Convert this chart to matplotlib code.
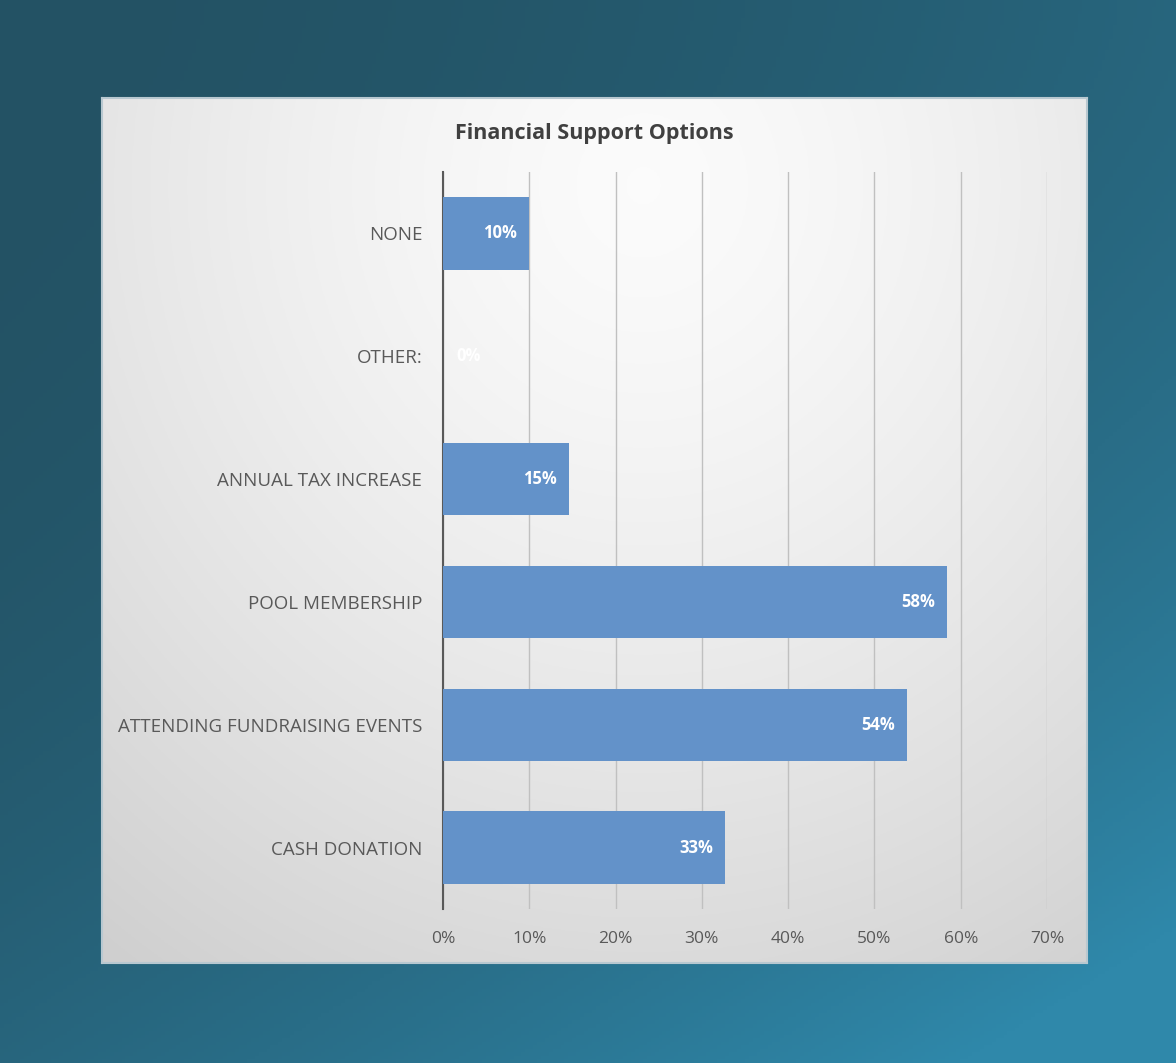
import matplotlib.pyplot as plt
import numpy as np
from matplotlib.ticker import PercentFormatter

# 调查数据：各项资金支持方式的选择比例
categories = ['CASH DONATION', 'ATTENDING FUNDRAISING EVENTS', 'POOL MEMBERSHIP',
              'ANNUAL TAX INCREASE', 'OTHER:', 'NONE']
shares = [0.327, 0.538, 0.584, 0.146, 0.0, 0.10]
x_ticks = [0, 0.1, 0.2, 0.3, 0.4, 0.5, 0.6, 0.7]

plt.rcParams['font.family'] = ['Open Sans', 'DejaVu Sans']

fig = plt.figure(figsize=(11.76, 10.63), dpi=100)

# 1. 深青色渐变背景
bg = fig.add_axes([0, 0, 1, 1])
gx, gy = np.meshgrid(np.linspace(0, 1, 300), np.linspace(0, 1, 300))
t = np.clip(0.55 * gx + 0.55 * gy ** 1.5, 0, 1)
c0 = np.array([0x23, 0x52, 0x64]) / 255
c1 = np.array([0x2f, 0x88, 0xaa]) / 255
img = c0 + (c1 - c0) * (t ** 1.7)[..., None]
bg.imshow(img, extent=[0, 1, 0, 1], origin='upper', aspect='auto')
bg.axis('off')

# 2. 浅灰白色面板（径向渐变）
px0, px1, py0, py1 = 102, 1087, 98, 963
panel = fig.add_axes([px0 / 1176, 1 - py1 / 1063, (px1 - px0) / 1176, (py1 - py0) / 1063])
ux, uy = np.meshgrid(np.linspace(0, 1, 300), np.linspace(0, 1, 300))
r = np.sqrt(((ux - 0.55) / 0.9) ** 2 + ((uy - 0.1) / 1.1) ** 2)
v = 0.985 - 0.17 * np.clip(r, 0, 1) ** 1.4
panel.imshow(np.dstack([v, v, v]), extent=[0, 1, 0, 1], origin='upper', aspect='auto')
panel.set_xticks([])
panel.set_yticks([])
for s in panel.spines.values():
    s.set_color('#b8c8d0')
    s.set_linewidth(1.5)

# 3. 条形图
ax = fig.add_axes([443 / 1176, 1 - 909 / 1063, (1047 - 443) / 1176, (909 - 172) / 1063])
ax.patch.set_alpha(0)
y = np.arange(len(categories))
ax.barh(y, shares, height=0.59, color='#6392c9', zorder=3)
for yi, s in zip(y, shares):
    label = '{:.0%}'.format(s)
    if s < 0.05:
        # 数值太小时标签放在轴线右侧
        ax.text(0.015, yi, label, ha='left', va='center',
                color='white', fontsize=12, fontweight='bold', zorder=4)
    else:
        ax.text(s - 0.014, yi, label, ha='right', va='center',
                color='white', fontsize=12, fontweight='bold', zorder=4)

ax.set_xlim(0, 0.7)
ax.set_ylim(-0.5, len(categories) - 0.5)
ax.set_xticks(x_ticks)
ax.xaxis.set_major_formatter(PercentFormatter(1.0, decimals=0))
ax.set_yticks(y)
ax.set_yticklabels(categories)
ax.grid(axis='x', color='#c0c0c0', linewidth=1, zorder=0)
ax.tick_params(axis='x', length=0, pad=16, labelsize=12.5, labelcolor='#595959')
ax.tick_params(axis='y', length=0, pad=15, labelsize=13.5, labelcolor='#595959')
for side in ['top', 'right', 'bottom']:
    ax.spines[side].set_visible(False)
ax.spines['left'].set_color('#595959')
ax.spines['left'].set_linewidth(1.5)

fig.text(594 / 1176, 1 - 133 / 1063, 'Financial Support Options', ha='center', va='center',
         fontsize=15.5, fontweight='bold', color='#404040')

fig.savefig('out.png', dpi=100)
